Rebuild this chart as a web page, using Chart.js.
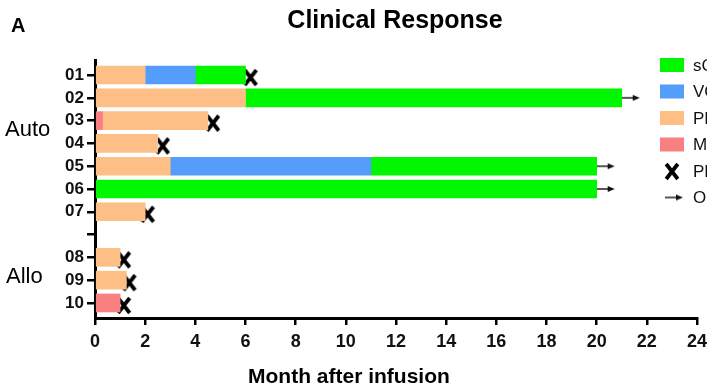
<!DOCTYPE html>
<html>
<head>
<meta charset="utf-8">
<title>Clinical Response</title>
<script src="https://cdn.jsdelivr.net/npm/chart.js@4/dist/chart.umd.min.js"></script>
<style>
  html, body { margin: 0; padding: 0; background: #fff; }
  #wrap { width: 707px; height: 391px; }
</style>
</head>
<body>
<div id="wrap"><canvas id="chart" width="707" height="391"></canvas></div>
<script>
// 患者编号 (空位用来分开 Auto 和 Allo)
const patients = ['01', '02', '03', '04', '05', '06', '07', '', '08', '09', '10'];

// 每位患者的疗效区间, 单位: 月
const mrSegs   = [null, null, [0, 0.3], null, null, null, null, null, null, null, [0, 1]];
const prSegs   = [[0, 2], [0, 6], [0.3, 4.5], [0, 2.5], [0, 3], null, [0, 2], null, [0, 1], [0, 1.25], null];
const vgprSegs = [[2, 4], null, null, null, [3, 11], null, null, null, null, null, null];
const scrSegs  = [[4, 6], [6, 21], null, null, [11, 20], [0, 20], null, null, null, null, null];

// 进展时间 (X) 和 仍在持续 (箭头)
const pdMonths      = [6.2, null, 4.7, 2.7, null, null, 2.1, null, 1.15, 1.37, 1.15];
const ongoingMonths = [null, 21, null, null, 20, 20, null, null, null, null, null];

const xTicks = [0, 2, 4, 6, 8, 10, 12, 14, 16, 18, 20, 22, 24];

const legendNames = ['sCR', 'VGPR', 'PR', 'MR', 'PD', 'Ongoing'];

const colors = {
    scr: '#00f700',
    vgpr: '#559dfa',
    pr: '#fdbf86',
    mr: '#f98080'
};

const FONT = '"Liberation Sans", Arial, Helvetica, sans-serif';

// 把区间转换成条形图数据
function toBars(segs) {
    return segs.map((s, i) => s ? { x: s, y: i } : null).filter(Boolean);
}

function toPoints(vals) {
    return vals.map((v, i) => v !== null ? { x: v, y: i } : null).filter(Boolean);
}

// X 标记图片 (粗体 X, 比条形中心略低)
function makeCross() {
    const c = document.createElement('canvas');
    c.width = 24; c.height = 26;
    const g = c.getContext('2d');
    g.strokeStyle = '#000';
    g.lineWidth = 3.8;
    g.lineCap = 'butt';
    const cx = 12, cy = 15.5;
    g.beginPath();
    g.moveTo(cx - 5.8, cy - 7.5);
    g.lineTo(cx + 5.8, cy + 7.5);
    g.moveTo(cx + 5.8, cy - 7.5);
    g.lineTo(cx - 5.8, cy + 7.5);
    g.stroke();
    return c;
}

// 箭头图片, 左半边空白, 箭头从中心向右
function makeArrow() {
    const c = document.createElement('canvas');
    c.width = 40; c.height = 10;
    const g = c.getContext('2d');
    g.strokeStyle = '#111';
    g.fillStyle = '#111';
    g.lineWidth = 1.4;
    g.beginPath();
    g.moveTo(20, 5);
    g.lineTo(33, 5);
    g.stroke();
    g.beginPath();
    g.moveTo(38, 5);
    g.lineTo(31, 2);
    g.lineTo(31, 8);
    g.closePath();
    g.fill();
    return c;
}

const crossImg = makeCross();
const arrowImg = makeArrow();

function barSet(label, segs, color) {
    return {
        type: 'bar',
        label: label,
        indexAxis: 'y',
        data: toBars(segs),
        backgroundColor: color,
        borderWidth: 0,
        barThickness: 18,
        grouped: false
    };
}

// 标题, 分组标签, 图例等文字
const decorPlugin = {
    id: 'decor',
    afterDraw(chart) {
        const ctx = chart.ctx;
        const y = chart.scales.y;
        ctx.save();
        ctx.fillStyle = '#000';

        ctx.font = 'bold 20px ' + FONT;
        ctx.textAlign = 'left';
        ctx.textBaseline = 'alphabetic';
        ctx.fillText('A', 11, 32);

        ctx.font = 'bold 25px ' + FONT;
        ctx.textAlign = 'center';
        ctx.fillText('Clinical Response', 395, 28);

        ctx.font = 'bold 21px ' + FONT;
        ctx.textAlign = 'left';
        ctx.fillText('Month after infusion', 248, 383);

        // 分组标签
        ctx.font = '22px ' + FONT;
        ctx.textBaseline = 'middle';
        ctx.fillText('Auto', 5, y.getPixelForValue(2.4));
        ctx.fillText('Allo', 6, y.getPixelForValue(8.85));

        // 图例
        const lx = 660, ly = 65, step = 26.5;
        const boxes = [colors.scr, colors.vgpr, colors.pr, colors.mr];
        boxes.forEach((c, i) => {
            ctx.fillStyle = c;
            ctx.fillRect(lx, ly + i * step - 7, 24, 14);
        });
        ctx.drawImage(crossImg, lx + 12 - 12, ly + 4 * step - 15);
        ctx.drawImage(arrowImg, lx + 12 - 27, ly + 5 * step - 5);

        ctx.fillStyle = '#111';
        ctx.font = '17px ' + FONT;
        ctx.textAlign = 'left';
        legendNames.forEach((t, i) => {
            ctx.fillText(t, 693, ly + i * step + 1);
        });
        ctx.restore();
    }
};

const chart = new Chart(document.getElementById('chart'), {
    data: {
        datasets: [
            barSet('MR', mrSegs, colors.mr),
            barSet('PR', prSegs, colors.pr),
            barSet('VGPR', vgprSegs, colors.vgpr),
            barSet('sCR', scrSegs, colors.scr),
            {
                type: 'scatter',
                label: 'PD',
                data: toPoints(pdMonths),
                pointStyle: crossImg,
                pointRadius: 6,
                clip: false
            },
            {
                type: 'scatter',
                label: 'Ongoing',
                data: toPoints(ongoingMonths),
                pointStyle: arrowImg,
                pointRadius: 6,
                clip: false
            }
        ]
    },
    options: {
        responsive: false,
        animation: false,
        events: [],
        layout: { padding: { top: 60, right: 10, left: 0, bottom: 0 } },
        plugins: {
            legend: { display: false },
            tooltip: { enabled: false },
            title: { display: false }
        },
        scales: {
            x: {
                type: 'linear',
                position: 'bottom',
                min: 0,
                max: 24,
                offset: false,
                afterBuildTicks: (scale) => { scale.ticks = xTicks.map(v => ({ value: v })); },
                afterFit: (scale) => {
                    scale.height = 73;
                    scale.paddingLeft = 0;
                    scale.paddingRight = 0;
                },
                border: { display: true, color: '#000', width: 3 },
                grid: { offset: false, drawOnChartArea: false, drawTicks: true, tickLength: 7, color: '#000', lineWidth: 2.5 },
                ticks: {
                    color: '#111',
                    padding: 6,
                    maxRotation: 0,
                    font: { family: FONT, size: 18, weight: 'bold' }
                }
            },
            y: {
                type: 'linear',
                reverse: true,
                min: -0.66,
                max: 10.66,
                offset: false,
                afterBuildTicks: (scale) => { scale.ticks = patients.map((_, i) => ({ value: i })); },
                afterFit: (scale) => {
                    scale.width = 95;
                    scale.paddingTop = 0;
                    scale.paddingBottom = 0;
                },
                border: { display: true, color: '#000', width: 3 },
                grid: { offset: false, drawOnChartArea: false, drawTicks: true, tickLength: 8, color: '#000', lineWidth: 2.5 },
                ticks: {
                    color: '#111',
                    padding: 3,
                    autoSkip: false,
                    callback: (v) => patients[Math.round(v)],
                    font: { family: FONT, size: 17, weight: 'bold' }
                }
            }
        }
    },
    plugins: [decorPlugin]
});
</script>
</body>
</html>
